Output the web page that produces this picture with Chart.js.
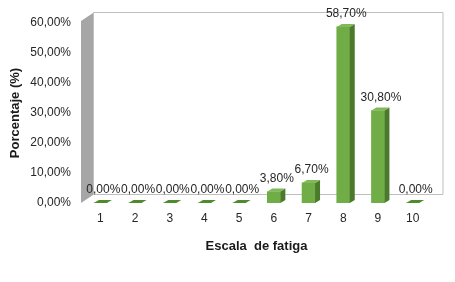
<!DOCTYPE html>
<html>
<head>
<meta charset="utf-8">
<script src="https://cdn.jsdelivr.net/npm/chart.js@4"></script>
<style>
  html, body { margin: 0; padding: 0; background: #fff; }
  #wrap { width: 455px; height: 282px; }
</style>
</head>
<body>
<div id="wrap"><canvas id="chart"></canvas></div>
<script>
// Chart data
const categories = ["1", "2", "3", "4", "5", "6", "7", "8", "9", "10"];
const percentages = [0, 0, 0, 0, 0, 3.8, 6.7, 58.7, 30.8, 0];
const yTicks = [0, 10, 20, 30, 40, 50, 60];

const xTitle = "Escala  de fatiga";
const yTitle = "Porcentaje (%)";

// Spanish style percent: 58,70%
function fmtPct(v) {
    return v.toFixed(2).replace(".", ",") + "%";
}

// depth of the walls and of the bars
const WALL_DX = 12, WALL_DY = -8;
const BAR_DX = 5, BAR_DY = -3;

// Draws the gray side wall and the white back wall behind the bars
const wallsPlugin = {
    id: "walls",
    beforeDatasetsDraw(chart) {
        const ctx = chart.ctx;
        const a = chart.chartArea;
        const x0 = a.left - 2;
        const top = a.top - 2;
        const bottom = a.bottom;
        ctx.save();
        // back wall
        ctx.fillStyle = "#ffffff";
        ctx.strokeStyle = "#bfbfbf";
        ctx.lineWidth = 1;
        ctx.beginPath();
        ctx.rect(x0 + WALL_DX + 0.5, top + WALL_DY - 0.5, a.right - x0 + 0.5, bottom - top);
        ctx.fill();
        ctx.stroke();
        // left wall
        ctx.fillStyle = "#a6a6a6";
        ctx.beginPath();
        ctx.moveTo(x0, top);
        ctx.lineTo(x0 + WALL_DX, top + WALL_DY);
        ctx.lineTo(x0 + WALL_DX, bottom + WALL_DY);
        ctx.lineTo(x0, bottom);
        ctx.closePath();
        ctx.fill();
        ctx.restore();
    }
};

// Adds side and top faces to each bar, then the value labels
const bar3dPlugin = {
    id: "bar3d",
    afterDatasetsDraw(chart) {
        const ctx = chart.ctx;
        const meta = chart.getDatasetMeta(0);
        ctx.save();
        meta.data.forEach((bar, i) => {
            const w = bar.width;
            const l = bar.x - w / 2;
            const r = bar.x + w / 2;
            const y = bar.y;
            const base = bar.base;
            if (base - y > 0.5) {
                // side face
                ctx.fillStyle = "#4b7a2b";
                ctx.beginPath();
                ctx.moveTo(r, y);
                ctx.lineTo(r + BAR_DX, y + BAR_DY);
                ctx.lineTo(r + BAR_DX, base + BAR_DY);
                ctx.lineTo(r, base);
                ctx.closePath();
                ctx.fill();
                ctx.fillStyle = "#7fb959";
            } else {
                ctx.fillStyle = "#4f8a2c";
            }
            // top face
            ctx.beginPath();
            ctx.moveTo(l, y);
            ctx.lineTo(l + BAR_DX, y + BAR_DY);
            ctx.lineTo(r + BAR_DX, y + BAR_DY);
            ctx.lineTo(r, y);
            ctx.closePath();
            ctx.fill();

            // value label
            ctx.fillStyle = "#262626";
            ctx.font = "12px 'Liberation Sans', Arial, sans-serif";
            ctx.textAlign = "center";
            ctx.textBaseline = "middle";
            ctx.fillText(fmtPct(percentages[i]), bar.x + 3, y - 13);
        });
        ctx.restore();
    }
};

const ctx = document.getElementById("chart").getContext("2d");
const chart = new Chart(ctx, {
    type: "bar",
    data: {
        labels: categories,
        datasets: [
            {
                data: percentages,
                backgroundColor: "#70ad47",
                borderWidth: 0,
                barThickness: 13,
            },
        ],
    },
    options: {
        responsive: true,
        maintainAspectRatio: false,
        animation: false,
        layout: {
            padding: { left: 4, right: 25, top: 23, bottom: 22 },
        },
        plugins: {
            legend: { display: false },
            tooltip: { enabled: false },
        },
        scales: {
            x: {
                grid: { display: false, drawTicks: false },
                border: { display: false },
                ticks: {
                    padding: 8,
                    color: "#262626",
                    font: { family: "'Liberation Sans', Arial, sans-serif", size: 12 },
                },
                title: {
                    display: true,
                    text: xTitle,
                    color: "#1a1a1a",
                    padding: { top: 0, bottom: 6 },
                    font: { family: "'Liberation Sans', Arial, sans-serif", size: 13, weight: "bold" },
                },
                afterFit(scale) {
                    scale.height = 57;
                },
            },
            y: {
                min: 0,
                max: 60,
                grid: { display: false, drawTicks: false },
                border: { display: false },
                afterBuildTicks(scale) {
                    scale.ticks = yTicks.map((v) => ({ value: v }));
                },
                ticks: {
                    padding: 12,
                    color: "#262626",
                    font: { family: "'Liberation Sans', Arial, sans-serif", size: 12 },
                    callback: (v) => fmtPct(v),
                },
                title: {
                    display: true,
                    text: yTitle,
                    color: "#1a1a1a",
                    padding: { top: 4, bottom: 0 },
                    font: { family: "'Liberation Sans', Arial, sans-serif", size: 13, weight: "bold" },
                },
                afterFit(scale) {
                    scale.width = 79;
                },
            },
        },
    },
    plugins: [wallsPlugin, bar3dPlugin],
});
</script>
</body>
</html>
